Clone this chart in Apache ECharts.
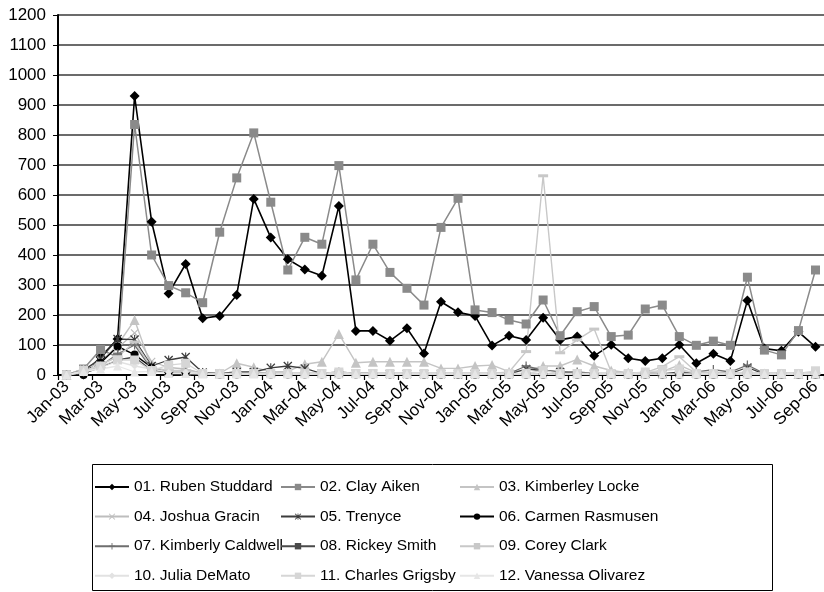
<!DOCTYPE html>
<html>
<head>
<meta charset="utf-8">
<script src="https://cdn.jsdelivr.net/npm/echarts@6/dist/echarts.min.js"></script>
<style>
html,body{margin:0;padding:0;background:#fff;}
#main{width:824px;height:592px;}
</style>
</head>
<body>
<div id="main"></div>
<script>
var months = ['Jan-03','Feb-03','Mar-03','Apr-03','May-03','Jun-03','Jul-03','Aug-03','Sep-03','Oct-03','Nov-03','Dec-03',
 'Jan-04','Feb-04','Mar-04','Apr-04','May-04','Jun-04','Jul-04','Aug-04','Sep-04','Oct-04','Nov-04','Dec-04',
 'Jan-05','Feb-05','Mar-05','Apr-05','May-05','Jun-05','Jul-05','Aug-05','Sep-05','Oct-05','Nov-05','Dec-05',
 'Jan-06','Feb-06','Mar-06','Apr-06','May-06','Jun-06','Jul-06','Aug-06','Sep-06'];

var ruben = [0,2,60,120,930,511,272,370,189,197,267,587,458,386,352,331,563,147,147,114,156,72,244,209,197,98,131,117,191,117,128,64,101,56,47,56,101,39,71,47,248,88,81,144,94];
var clay = [0,20,85,60,835,400,298,274,241,476,657,807,576,350,459,436,698,317,436,342,289,233,492,589,217,208,183,170,250,131,211,228,128,133,220,233,128,99,113,99,326,83,67,148,350];
var kimberley = [0,20,40,100,183,25,10,15,8,5,39,26,10,12,36,44,137,41,44,44,44,44,22,22,30,33,11,15,30,30,52,30,15,8,8,12,33,8,6,6,8,5,4,4,5];
var joshua = [0,20,50,90,140,45,25,20,5,3,5,10,5,3,5,3,5,3,3,2,2,2,2,2,2,2,2,2,2,2,2,2,2,2,2,2,2,2,2,2,2,2,2,2,2];
var trenyce = [0,15,55,120,118,30,50,60,8,5,10,10,24,30,22,5,5,5,5,3,3,3,3,2,3,3,3,20,15,10,5,5,3,3,3,3,10,5,5,5,25,3,3,3,3];
var carmen = [0,0,40,95,68,25,10,5,3,2,2,3,2,2,2,2,2,2,2,2,2,1,1,1,1,1,1,1,1,1,1,1,1,1,1,1,1,1,1,1,1,1,1,1,1];
var caldwell = [0,10,30,70,100,20,10,10,5,5,5,5,5,5,5,5,10,5,5,5,5,5,5,5,5,5,5,30,15,10,10,5,5,5,5,5,5,10,18,10,33,5,5,5,5];
var rickey = [0,5,25,50,60,15,10,10,5,3,3,3,3,3,3,3,3,3,3,3,3,3,3,3,3,3,3,3,3,3,3,3,3,3,3,3,3,3,3,3,3,3,3,3,3];
var corey = [0,10,35,60,110,25,15,15,5,3,5,5,5,5,5,5,5,5,5,5,5,5,5,5,5,5,10,78,664,74,117,153,10,5,8,28,61,10,8,5,8,5,5,5,5];
var julia = [0,10,25,45,30,20,10,10,5,3,3,3,3,3,3,3,3,3,3,3,3,3,3,3,3,3,3,3,3,3,3,3,3,3,3,3,3,3,3,3,3,3,3,3,3];
var grigsby = [0,15,30,50,50,15,33,39,5,5,5,5,5,5,5,5,10,5,5,5,5,5,5,5,5,5,5,5,15,5,5,5,5,5,10,15,20,5,5,5,10,5,5,5,14];
var vanessa = [0,12,20,30,10,12,5,5,3,3,3,3,3,3,3,3,3,3,3,3,3,3,3,3,3,3,3,3,3,3,3,3,3,3,3,3,3,3,3,3,3,3,3,3,3];

var names = ['01. Ruben Studdard','02. Clay Aiken','03. Kimberley Locke','04. Joshua Gracin','05. Trenyce','06. Carmen Rasmusen',
 '07. Kimberly Caldwell','08. Rickey Smith','09. Corey Clark','10. Julia DeMato','11. Charles Grigsby','12. Vanessa Olivarez'];
var yTicks = [0,100,200,300,400,500,600,700,800,900,1000,1100,1200];

var FONT = '"Liberation Sans", Arial, Helvetica, sans-serif';
var SYM_PLUS = 'path://M4.3,0H5.7V4.3H10V5.7H5.7V10H4.3V5.7H0V4.3H4.3Z';
var SYM_X = 'path://M0,1L1,0L5,4L9,0L10,1L6,5L10,9L9,10L5,6L1,10L0,9L4,5Z';
var SYM_STAR = 'path://M0,1L1,0L5,4L9,0L10,1L6,5L10,9L9,10L5,6L1,10L0,9L4,5Z M4.4,0H5.6V10H4.4Z';

function mk(name, data, color, symbol, size, width) {
  return {
    name: name, type: 'line', data: data,
    symbol: symbol, symbolSize: size, showSymbol: true,
    lineStyle: { color: color, width: width || 1.5 },
    itemStyle: { color: color },
    emphasis: { disabled: true },
    animation: false, z: 3
  };
}

var series = [
  mk(names[0], ruben, '#000000', 'diamond', 10, 1.6),
  mk(names[1], clay, '#8a8a8a', 'rect', 9, 1.5),
  mk(names[2], kimberley, '#c4c4c4', 'triangle', 10, 1.4),
  mk(names[3], joshua, '#bdbdbd', SYM_X, 8, 1.3),
  mk(names[4], trenyce, '#3c3c3c', SYM_STAR, 9, 1.3),
  mk(names[5], carmen, '#000000', 'circle', 8, 1.4),
  mk(names[6], caldwell, '#6e6e6e', SYM_PLUS, 9, 1.3),
  mk(names[7], rickey, '#4a4a4a', 'rect', [9, 2], 1.3),
  mk(names[8], corey, '#c8c8c8', 'rect', [10, 3], 1.4),
  mk(names[9], julia, '#e2e2e2', 'diamond', 7, 1.3),
  mk(names[10], grigsby, '#d6d6d6', 'rect', 9, 1.3),
  mk(names[11], vanessa, '#e6e6e6', 'triangle', 9, 1.3)
];

var legendBase = {
  orient: 'vertical', top: 479, itemGap: 13.6, itemWidth: 34, itemHeight: 8,
  textStyle: { fontSize: 15.5, color: '#000', fontFamily: FONT },
  selectedMode: false, padding: 0
};
function lg(left, idx) {
  var o = JSON.parse(JSON.stringify(legendBase));
  o.left = left;
  o.data = idx.map(function (i) { return names[i]; });
  return o;
}

var chart = echarts.init(document.getElementById('main'), null, { renderer: 'canvas' });
chart.setOption({
  backgroundColor: '#ffffff',
  animation: false,
  textStyle: { fontFamily: FONT },
  grid: { left: 58, right: 0, top: 15, bottom: 217, containLabel: false },
  xAxis: {
    type: 'category', data: months, boundaryGap: true,
    axisLine: { lineStyle: { color: '#000', width: 2 } },
    axisTick: { show: true, interval: 1, length: 5, lineStyle: { color: '#000', width: 1.2 } },
    axisLabel: { interval: 1, rotate: 45, fontSize: 17, color: '#000', fontFamily: FONT, margin: 9 },
    splitLine: { show: false }
  },
  yAxis: {
    type: 'value', min: yTicks[0], max: yTicks[yTicks.length - 1], interval: 100,
    axisLine: { show: true, lineStyle: { color: '#000', width: 2 } },
    axisTick: { show: true, length: 5, inside: false, lineStyle: { color: '#000' } },
    axisLabel: { fontSize: 17, color: '#000', fontFamily: FONT, margin: 12,
      formatter: function (v) { return String(v); } },
    splitLine: { show: true, lineStyle: { color: '#3a3a3a', width: 1.5 } }
  },
  legend: [
    lg(94, [0, 3, 6, 9]),
    lg(280, [1, 4, 7, 10]),
    lg(459, [2, 5, 8, 11])
  ],
  graphic: [{
    type: 'rect', left: 90, top: 462,
    shape: { width: 680, height: 126 },
    style: { fill: 'none', stroke: '#000', lineWidth: 1 }
  }],
  series: series
});
</script>
</body>
</html>
